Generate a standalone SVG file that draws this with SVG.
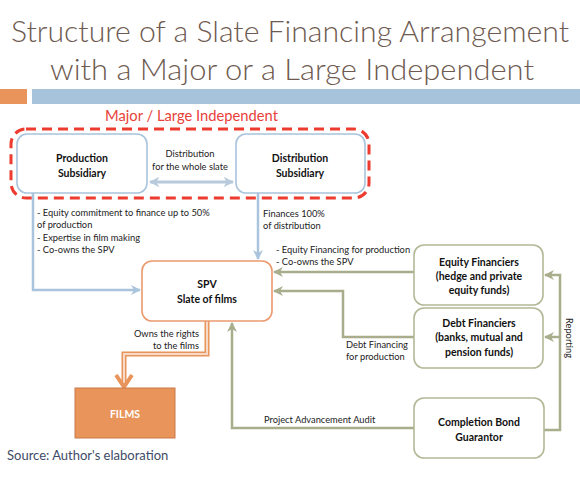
<svg xmlns="http://www.w3.org/2000/svg" width="580" height="477" viewBox="0 0 580 477">
<defs>
<style>
.title{font-family:Lato,"Open Sans",sans-serif;font-size:30px;font-weight:300;fill:#6e5a50;text-anchor:middle}
.b{font-family:Lato,"Open Sans",sans-serif;font-size:10.5px;font-weight:bold;fill:#111;text-anchor:middle}
.s{font-family:Lato,"Open Sans",sans-serif;font-size:9.3px;fill:#222}
.node{fill:#fff;stroke-width:1.6}
.blue{stroke:#a9c4dc}
.green{stroke:#b3b897}
.orange{stroke:#ea9a6e}
.cb{fill:none;stroke:#a9c4dc;stroke-width:2.5}
.cg{fill:none;stroke:#a9ad8c;stroke-width:2.5}
</style>
<marker id="ab" viewBox="0 0 10 10" refX="9" refY="5" markerWidth="4" markerHeight="4" orient="auto"><path d="M0,0 L10,5 L0,10 L3,5 z" fill="#a9c4dc"/></marker>
<marker id="ag" viewBox="0 0 10 10" refX="9" refY="5" markerWidth="4" markerHeight="4" orient="auto"><path d="M0,0 L10,5 L0,10 L3,5 z" fill="#a9ad8c"/></marker>
<marker id="ad" viewBox="0 0 10 10" refX="9" refY="5" markerWidth="3.5" markerHeight="3.5" orient="auto-start-reverse"><path d="M0,0 L10,5 L0,10 L3,5 z" fill="#b8cadb"/></marker>
</defs>
<rect width="580" height="477" fill="#fff"/>
<text class="title" x="290" y="42" textLength="558" lengthAdjust="spacingAndGlyphs">Structure of a Slate Financing Arrangement</text>
<text class="title" x="292" y="80" textLength="484" lengthAdjust="spacingAndGlyphs">with a Major or a Large Independent</text>
<rect x="0" y="89" width="27" height="15" fill="#e8945a"/>
<rect x="32" y="89" width="548" height="15" fill="#a7c3dc"/>
<text x="105" y="121" font-family="Lato,'Open Sans',sans-serif" font-size="15" fill="#e8413a" textLength="173" lengthAdjust="spacingAndGlyphs">Major / Large Independent</text>
<rect x="11" y="129" width="358" height="69" rx="15" fill="none" stroke="#ee3b2f" stroke-width="3" stroke-dasharray="10,6"/>

<g id="connectors">
<path class="cb" d="M33,193 V290 H140" marker-end="url(#ab)"/>
<path class="cb" d="M258,193 V259" marker-end="url(#ab)"/>
<path d="M150,182 H233" fill="none" stroke="#b8cadb" stroke-width="3" marker-start="url(#ad)" marker-end="url(#ad)"/>
<path class="cg" d="M414,272 H274" marker-end="url(#ag)"/>
<path class="cg" d="M414,337 H343 V291 H274" marker-end="url(#ag)"/>
<path class="cg" d="M414,428 H232 V323" marker-end="url(#ag)"/>
<path class="cg" d="M544,430 H560 V275 H545" marker-end="url(#ag)"/>
<path class="cg" d="M560,337 H545" marker-end="url(#ag)"/>
<path d="M207,321 V354 H124 V384" fill="none" stroke="#e8945a" stroke-width="5"/>
<path d="M207,321 V354 H124 V384" fill="none" stroke="#f6d9c6" stroke-width="2"/>
<path d="M116,375 L124,387 L132,375" fill="none" stroke="#e8945a" stroke-width="4"/>
<text class="s" x="190" y="157" text-anchor="middle">Distribution</text>
<text class="s" x="190" y="170" text-anchor="middle">for the whole slate</text>
<text class="s" x="37" y="216">- Equity commitment to finance up to 50%</text>
<text class="s" x="37" y="228">of production</text>
<text class="s" x="37" y="241">- Expertise in film making</text>
<text class="s" x="37" y="253">- Co-owns the SPV</text>
<text class="s" x="263" y="217">Finances 100%</text>
<text class="s" x="263" y="229">of distribution</text>
<text class="s" x="276" y="253">- Equity Financing for production</text>
<text class="s" x="276" y="265">- Co-owns the SPV</text>
<text class="s" x="346" y="348">Debt Financing</text>
<text class="s" x="346" y="360">for production</text>
<text class="s" x="199" y="337" text-anchor="end">Owns the rights</text>
<text class="s" x="199" y="349" text-anchor="end">to the films</text>
<text class="s" x="264" y="423">Project Advancement Audit</text>
<text class="s" x="566" y="338" text-anchor="middle" transform="rotate(90 566 338)">Reporting</text>
</g>

<g id="production">
<rect class="node blue" x="17" y="134" width="130" height="59" rx="10"/>
<text class="b" x="82" y="162">Production</text>
<text class="b" x="82" y="177">Subsidiary</text>
</g>
<g id="distribution">
<rect class="node blue" x="236" y="134" width="129" height="59" rx="10"/>
<text class="b" x="300" y="162">Distribution</text>
<text class="b" x="300" y="177">Subsidiary</text>
</g>
<g id="spv">
<rect class="node orange" x="142" y="261" width="130" height="60" rx="10"/>
<text class="b" x="207" y="288">SPV</text>
<text class="b" x="207" y="303">Slate of films</text>
</g>
<g id="equity">
<rect class="node green" x="414" y="245" width="129" height="60" rx="10"/>
<text class="b" x="479" y="266">Equity Financiers</text>
<text class="b" x="479" y="280">(hedge and private</text>
<text class="b" x="479" y="294">equity funds)</text>
</g>
<g id="debt">
<rect class="node green" x="414" y="308" width="129" height="60" rx="10"/>
<text class="b" x="479" y="327">Debt Financiers</text>
<text class="b" x="479" y="341">(banks, mutual and</text>
<text class="b" x="479" y="356">pension funds)</text>
</g>
<g id="completion">
<rect class="node green" x="414" y="398" width="130" height="60" rx="10"/>
<text class="b" x="479" y="426">Completion Bond</text>
<text class="b" x="479" y="441">Guarantor</text>
</g>
<g id="films">
<rect x="75" y="388" width="100" height="50" fill="#e8945a" stroke="#c97a48" stroke-width="1"/>
<text class="b" x="125" y="418" style="fill:#fff">FILMS</text>
</g>
<text x="7" y="460" font-family="Lato,'Open Sans',sans-serif" font-size="13" fill="#3e4a66">Source: Author's elaboration</text>
</svg>
